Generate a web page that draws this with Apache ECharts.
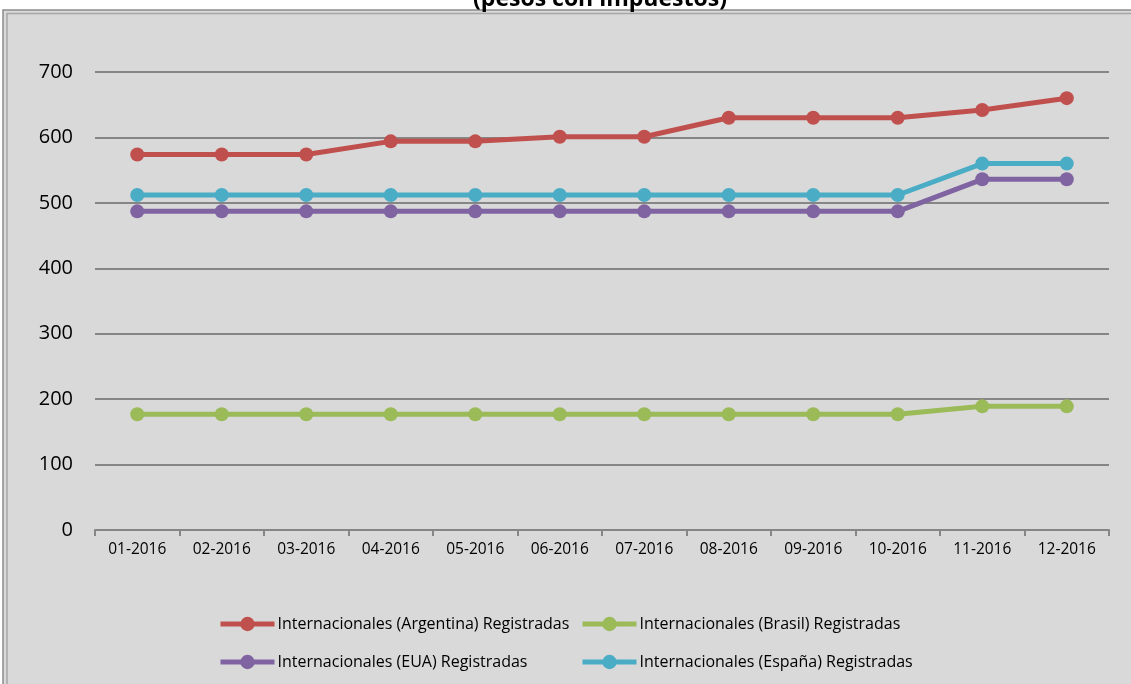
<!DOCTYPE html>
<html>
<head>
<meta charset="utf-8">
<script src="https://cdn.jsdelivr.net/npm/echarts@6/dist/echarts.min.js"></script>
<style>
  html, body { margin: 0; padding: 0; background: #ffffff; }
  #chart { width: 1131px; height: 684px; }
</style>
</head>
<body>
<div id="chart"></div>
<script>
const categories = ['01-2016','02-2016','03-2016','04-2016','05-2016','06-2016','07-2016','08-2016','09-2016','10-2016','11-2016','12-2016'];
const argentina = [574, 574, 574, 594, 594, 601, 601, 630, 630, 630, 642, 660];
const brasil    = [177, 177, 177, 177, 177, 177, 177, 177, 177, 177, 189, 189];
const eua       = [487, 487, 487, 487, 487, 487, 487, 487, 487, 487, 536, 536];
const espana    = [512, 512, 512, 512, 512, 512, 512, 512, 512, 512, 560, 560];
const seriesNames = [
  'Internacionales (Argentina) Registradas',
  'Internacionales (Brasil) Registradas',
  'Internacionales (EUA) Registradas',
  'Internacionales (España) Registradas'
];
const titleText = '(pesos con impuestos)';
const yTicks = { min: 0, max: 700, interval: 100 };

const FONT = '"Open Sans", "Liberation Sans", sans-serif';
const colors = ['#c0504d', '#9bbb59', '#8064a2', '#4bacc6'];
const dataSets = [argentina, brasil, eua, espana];

const chart = echarts.init(document.getElementById('chart'), null, { renderer: 'canvas' });

const legendCommon = {
  orient: 'vertical',
  itemWidth: 54,
  itemHeight: 18,
  itemGap: 22,
  textStyle: { fontFamily: FONT, fontSize: 16, color: '#000000', padding: [0, 0, 0, -2] },
  lineStyle: { width: 5 },
  padding: 0
};

chart.setOption({
  backgroundColor: '#ffffff',
  animation: false,
  title: {
    text: titleText,
    left: 595,
    textAlign: 'center',
    top: -17,
    textStyle: { fontFamily: FONT, fontSize: 23, fontWeight: 'bold', color: '#000000' }
  },
  graphic: [
    { type: 'rect', z: -10, silent: true,
      shape: { x: 3, y: 10, width: 1140, height: 690 },
      style: { fill: '#d9d9d9', stroke: '#8c8c8c', lineWidth: 1.5 } },
    { type: 'rect', z: -9, silent: true,
      shape: { x: 7, y: 13.5, width: 1140, height: 690 },
      style: { fill: 'none', stroke: '#a6a6a6', lineWidth: 1.5 } }
  ],
  legend: [
    Object.assign({}, legendCommon, { left: 218, top: 616, data: [seriesNames[0], seriesNames[2]] }),
    Object.assign({}, legendCommon, { left: 580, top: 616, data: [seriesNames[1], seriesNames[3]] })
  ],
  grid: { left: 95, right: 22, top: 72, bottom: 154, containLabel: false },
  xAxis: {
    type: 'category',
    data: categories,
    boundaryGap: true,
    axisLine: { show: true, lineStyle: { color: '#868686', width: 2 } },
    axisTick: { show: true, length: 6, alignWithLabel: false, lineStyle: { color: '#868686', width: 2 } },
    axisLabel: { fontFamily: FONT, fontSize: 15.5, color: '#000000', margin: 12 },
    splitLine: { show: false }
  },
  yAxis: {
    type: 'value',
    min: yTicks.min,
    max: yTicks.max,
    interval: yTicks.interval,
    axisLine: { show: false },
    axisTick: { show: false },
    axisLabel: { fontFamily: FONT, fontSize: 20, color: '#000000', margin: 22 },
    splitLine: { show: true, lineStyle: { color: '#868686', width: 2 } }
  },
  series: dataSets.map((d, i) => ({
    name: seriesNames[i],
    type: 'line',
    data: d,
    symbol: 'circle',
    symbolSize: 14,
    showSymbol: true,
    lineStyle: { color: colors[i], width: 5 },
    itemStyle: { color: colors[i] },
    emphasis: { disabled: true }
  }))
});
</script>
</body>
</html>
